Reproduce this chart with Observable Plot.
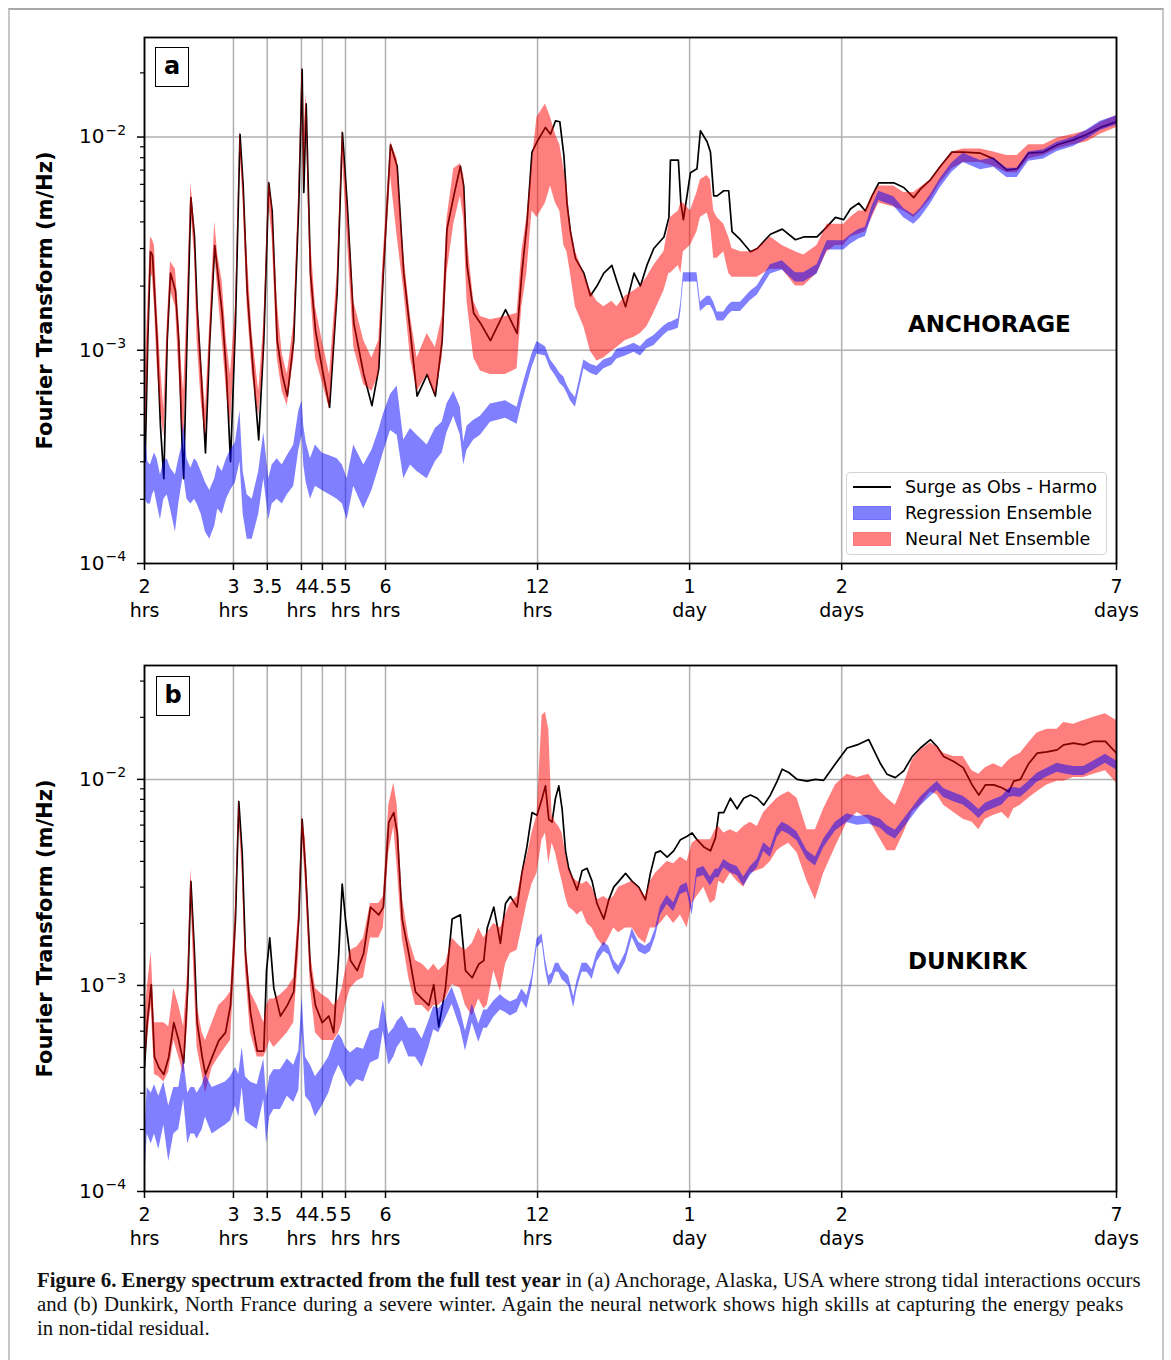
<!DOCTYPE html>
<html>
<head>
<meta charset="utf-8">
<script src="https://cdn.jsdelivr.net/npm/d3@7"></script>
<script src="https://cdn.jsdelivr.net/npm/@observablehq/plot@0.6"></script>
<style>
  body { margin: 0; background: #fff; }
  #page { position: relative; width: 1171px; height: 1360px; background: #fff; font-family: "DejaVu Sans", sans-serif; overflow: hidden; }
  #border { position: absolute; z-index: 5; left: 8px; top: 8px; width: 1156px; height: 1400px; box-sizing: border-box;
            border-top: 2px solid #a8a8a8; border-left: 2px solid #c8c8c8; border-right: 2px solid #c8c8c8; pointer-events: none; }
  .panel { position: absolute; left: 0; }
  .plabel { position: absolute; width: 34px; height: 40px; box-sizing: border-box; border: 1.5px solid #000;
            background: #fff; font-weight: bold; font-size: 24px; line-height: 36px; text-align: center; }
  .station { position: absolute; font-weight: bold; font-size: 23px; line-height: 24px; white-space: nowrap; }
  #legend { position: absolute; left: 846px; top: 472px; width: 261px; height: 83px; box-sizing: border-box;
            border: 1px solid #d4d4d4; border-radius: 4px; background: rgba(255,255,255,0.85); }
  .lrow { position: absolute; left: 0; width: 100%; height: 26px; }
  .lsw { position: absolute; left: 6px; width: 38px; }
  .ltx { position: absolute; left: 58px; top: 0; font-size: 17.5px; line-height: 26px; white-space: nowrap; }
  #caption { position: absolute; left: 37px; top: 1268px; font-family: "Liberation Serif", serif; font-size: 20.8px;
             line-height: 24px; white-space: nowrap; color: #111; }
</style>
</head>
<body>
<div id="page">
  <div id="panelA" class="panel" style="top:0px"></div>
  <div id="panelB" class="panel" style="top:628px"></div>
  <div class="plabel" style="left:155px;top:47px">a</div>
  <div class="plabel" style="left:156px;top:676px">b</div>
  <div class="station" style="left:908px;top:312px">ANCHORAGE</div>
  <div class="station" style="left:908px;top:949px">DUNKIRK</div>
  <div id="legend">
    <div class="lrow" style="top:1px">
      <div class="lsw" style="top:12px;height:2px;background:#000"></div>
      <div class="ltx">Surge as Obs - Harmo</div>
    </div>
    <div class="lrow" style="top:27px">
      <div class="lsw" style="top:6px;height:14px;box-sizing:border-box;background:#8080ff;border:1px solid #7070f8"></div>
      <div class="ltx">Regression Ensemble</div>
    </div>
    <div class="lrow" style="top:53px">
      <div class="lsw" style="top:6px;height:14px;box-sizing:border-box;background:#ff8080;border:1px solid #f87878"></div>
      <div class="ltx">Neural Net Ensemble</div>
    </div>
  </div>
  <div id="caption"><b>Figure 6. Energy spectrum extracted from the full test year</b> in (a) Anchorage, Alaska, USA where strong tidal interactions occurs<br><span style="word-spacing:1.2px">and (b) Dunkirk, North France during a severe winter. Again the neural network shows high skills at capturing the energy peaks</span><br>in non-tidal residual.</div>
  <div id="border"></div>
</div>
<script>
// ---------- axis ticks ----------
const xTickValues = [2, 3, 3.5, 4.09, 4.5, 5.0, 6, 12, 24, 48, 168];
const xTickLabels = ["2\nhrs", "3\nhrs", "3.5", "4\nhrs", "4.5", "5\nhrs", "6\nhrs", "12\nhrs", "1\nday", "2\ndays", "7\ndays"];
const yMajorTicks = [1e-4, 1e-3, 1e-2];
const yMinorTicks = [2e-4,3e-4,4e-4,5e-4,6e-4,7e-4,8e-4,9e-4,2e-3,3e-3,4e-3,5e-3,6e-3,7e-3,8e-3,9e-3,2e-2,3e-2];
const yTitle = "Fourier Transform (m/Hz)";

// ---------- panel a : Anchorage (period in hours, spectrum in m/Hz) ----------
const aHours = [
  2.006, 2.030, 2.055, 2.074, 2.093, 2.118, 2.151, 2.184, 2.218, 2.252,
  2.303, 2.338, 2.374, 2.391, 2.427, 2.471, 2.512, 2.542, 2.590, 2.641,
  2.693, 2.755, 2.793, 2.850, 2.906, 2.960, 3.028, 3.091, 3.136, 3.194,
  3.268, 3.366, 3.445, 3.524, 3.579, 3.662, 3.747, 3.835, 3.949, 4.041,
  4.103, 4.134, 4.179, 4.262, 4.360, 4.496, 4.65, 4.814, 4.93, 5.038,
  5.192, 5.434, 5.64, 5.819, 5.94, 6.14, 6.328, 6.521, 6.723, 6.93,
  7.255, 7.53, 7.769, 7.94, 8.19, 8.44, 8.57, 8.70, 8.97, 9.25,
  9.68, 10.37, 10.93, 11.17, 11.43, 11.70, 11.97, 12.44, 12.73, 13.02,
  13.28, 13.53, 13.72, 13.94, 14.26, 14.82, 15.27, 15.73, 16.23, 16.84,
  17.23, 17.92, 18.63, 19.18, 19.75, 20.38, 21.35, 21.84, 21.99, 22.80,
  23.06, 23.33, 24.09, 24.82, 25.21, 25.99, 26.39, 26.79, 27.21, 28.04,
  28.68, 29.12, 30.25, 31.67, 32.66, 34.69, 36.61, 38.87, 40.38, 42.90,
  44.92, 46.65, 48.45, 49.95, 51.87, 53.48, 55.13, 56.84, 60.85, 63.69,
  66.66, 68.72, 71.94, 75.30, 79.33, 83.52, 90.36, 96.0, 101.9, 106.8,
  112.5, 120.5, 128.2, 138.1, 147.0, 156.1, 168
];
const aObs = [
  0.00030, 0.00111, 0.0029, 0.0028, 0.0019, 0.00111, 0.00044, 0.00025, 0.00111, 0.0023,
  0.0019, 0.00111, 0.00036, 0.00025, 0.00111, 0.0052, 0.0034, 0.0016, 0.00077, 0.00033,
  0.00111, 0.0031, 0.0023, 0.00149, 0.00077, 0.00030, 0.00134, 0.0103, 0.0059, 0.0019,
  0.00092, 0.00038, 0.00111, 0.0061, 0.0045, 0.00111, 0.00077, 0.00061, 0.00111, 0.0049,
  0.0208, 0.0055, 0.0143, 0.0023, 0.00124, 0.00082, 0.00054, 0.0019, 0.0105, 0.0049,
  0.00134, 0.00077, 0.00055, 0.00082, 0.0023, 0.0092, 0.0073, 0.0023, 0.00120, 0.00061,
  0.00077, 0.00061, 0.00111, 0.0037, 0.0053, 0.0073, 0.0059, 0.0025, 0.00149, 0.00134,
  0.00111, 0.00155, 0.00120, 0.0023, 0.0039, 0.0085, 0.0095, 0.0111, 0.0103, 0.0119,
  0.0118, 0.0082, 0.0049, 0.0036, 0.0027, 0.0023, 0.0018, 0.0020, 0.0023, 0.0025,
  0.0021, 0.0016, 0.0023, 0.0020, 0.0025, 0.0030, 0.0034, 0.0042, 0.0078, 0.0078,
  0.0049, 0.0041, 0.0068, 0.0071, 0.0107, 0.0095, 0.0085, 0.0053, 0.0053, 0.0056,
  0.0056, 0.0036, 0.0033, 0.0029, 0.0030, 0.0035, 0.0037, 0.0033, 0.0034, 0.0034,
  0.0038, 0.0042, 0.0041, 0.0046, 0.0049, 0.0045, 0.0053, 0.0061, 0.0061, 0.0058,
  0.0052, 0.0057, 0.0063, 0.0073, 0.0085, 0.0085, 0.0084, 0.0079, 0.0070, 0.0071,
  0.0084, 0.0085, 0.0092, 0.0097, 0.0103, 0.0111, 0.0118
];
const aNnHi = [
  0.00077, 0.0016, 0.0034, 0.0033, 0.0031, 0.0016, 0.00086, 0.00053, 0.00134, 0.0026,
  0.0024, 0.00144, 0.00077, 0.00064, 0.0016, 0.0061, 0.0039, 0.0019, 0.00092, 0.00053,
  0.00134, 0.0040, 0.0028, 0.0021, 0.00111, 0.00077, 0.0016, 0.0107, 0.0066, 0.0028,
  0.00120, 0.00064, 0.00134, 0.0063, 0.0049, 0.0017, 0.00096, 0.00077, 0.00134, 0.0057,
  0.0220, 0.0103, 0.0160, 0.0034, 0.0016, 0.00111, 0.00077, 0.0023, 0.0109, 0.0053,
  0.0017, 0.00111, 0.00092, 0.00111, 0.0028, 0.0095, 0.0079, 0.0028, 0.00144, 0.00092,
  0.00120, 0.00103, 0.00144, 0.0041, 0.0071, 0.0075, 0.0066, 0.0034, 0.0017, 0.00144,
  0.00139, 0.00144, 0.00149, 0.0029, 0.0042, 0.0076, 0.0124, 0.0143, 0.0124, 0.0103,
  0.0092, 0.0071, 0.0059, 0.0039, 0.0029, 0.0023, 0.0019, 0.0017, 0.0016, 0.0017,
  0.0016, 0.0018, 0.0019, 0.0020, 0.0022, 0.0025, 0.0029, 0.0039, 0.0042, 0.0045,
  0.0049, 0.0049, 0.0045, 0.0055, 0.0063, 0.0066, 0.0063, 0.0045, 0.0042, 0.0039,
  0.0034, 0.0030, 0.0029, 0.0029, 0.0030, 0.0034, 0.0031, 0.0029, 0.0028, 0.0031,
  0.0039, 0.0039, 0.0039, 0.0042, 0.0045, 0.0045, 0.0053, 0.0059, 0.0059, 0.0055,
  0.0055, 0.0058, 0.0063, 0.0073, 0.0085, 0.0088, 0.0088, 0.0085, 0.0082, 0.0082,
  0.0092, 0.0092, 0.0099, 0.0103, 0.0107, 0.0117, 0.0126
];
const aNnLo = [
  0.00036, 0.00077, 0.0023, 0.0022, 0.0016, 0.00086, 0.00053, 0.00039, 0.00089, 0.0019,
  0.0016, 0.00082, 0.00044, 0.00039, 0.00092, 0.0045, 0.0028, 0.00111, 0.00057, 0.00039,
  0.00089, 0.0028, 0.0019, 0.00111, 0.00064, 0.00044, 0.00111, 0.0088, 0.0049, 0.0016,
  0.00077, 0.00049, 0.00092, 0.0049, 0.0034, 0.00092, 0.00064, 0.00055, 0.00092, 0.0042,
  0.0186, 0.0055, 0.0124, 0.0019, 0.00092, 0.00071, 0.00053, 0.0016, 0.0082, 0.0034,
  0.00103, 0.00069, 0.00064, 0.00077, 0.0019, 0.0066, 0.0034, 0.0019, 0.00092, 0.00064,
  0.00077, 0.00061, 0.00092, 0.0023, 0.0039, 0.0053, 0.0041, 0.0017, 0.00092, 0.00080,
  0.00077, 0.00077, 0.00082, 0.0016, 0.0023, 0.0045, 0.0042, 0.0049, 0.0059, 0.0049,
  0.0045, 0.0031, 0.0029, 0.0023, 0.0016, 0.00129, 0.00099, 0.00089, 0.00092, 0.00099,
  0.00103, 0.00111, 0.00115, 0.00120, 0.00129, 0.00149, 0.0019, 0.0023, 0.0023, 0.0025,
  0.0023, 0.0029, 0.0031, 0.0036, 0.0042, 0.0044, 0.0039, 0.0027, 0.0027, 0.0029,
  0.0023, 0.0022, 0.0022, 0.0022, 0.0022, 0.0024, 0.0024, 0.0020, 0.0020, 0.0023,
  0.0029, 0.0031, 0.0031, 0.0034, 0.0035, 0.0036, 0.0042, 0.0049, 0.0047, 0.0045,
  0.0042, 0.0045, 0.0051, 0.0061, 0.0071, 0.0076, 0.0076, 0.0073, 0.0068, 0.0068,
  0.0079, 0.0082, 0.0088, 0.0092, 0.0095, 0.0103, 0.0111
];
const aRegHi = [
  0.00042, 0.00030, 0.00029, 0.00031, 0.00033, 0.00031, 0.00026, 0.00030, 0.00031, 0.00028,
  0.00026, 0.00031, 0.00036, 0.00046, 0.00031, 0.00028, 0.00031, 0.00030, 0.00027, 0.00024,
  0.00022, 0.00025, 0.00029, 0.00027, 0.00031, 0.00034, 0.00037, 0.00052, 0.00027, 0.00021,
  0.00020, 0.00027, 0.00041, 0.00025, 0.00029, 0.00031, 0.00029, 0.00032, 0.00036, 0.00052,
  0.00058, 0.00044, 0.00037, 0.00031, 0.00036, 0.00033, 0.00032, 0.00031, 0.00029, 0.00025,
  0.00036, 0.00029, 0.00034, 0.00042, 0.00050, 0.00062, 0.00068, 0.00038, 0.00043, 0.00040,
  0.00036, 0.00043, 0.00046, 0.00056, 0.00064, 0.00054, 0.00037, 0.00044, 0.00047, 0.00049,
  0.00056, 0.00058, 0.00054, 0.00066, 0.00080, 0.00096, 0.00110, 0.00104, 0.00090, 0.00084,
  0.00078, 0.00075, 0.00069, 0.00064, 0.00060, 0.00090, 0.00086, 0.00084, 0.00090, 0.00093,
  0.00101, 0.00104, 0.00108, 0.00104, 0.00112, 0.00117, 0.00130, 0.00135, 0.00135, 0.00141,
  0.00168, 0.00231, 0.00231, 0.00231, 0.00168, 0.00179, 0.00179, 0.00168, 0.00151, 0.00151,
  0.00163, 0.00168, 0.00168, 0.00189, 0.00200, 0.00252, 0.00263, 0.00231, 0.00231, 0.00252,
  0.00326, 0.00326, 0.00326, 0.00347, 0.00368, 0.00378, 0.00473, 0.00557, 0.00525, 0.00462,
  0.00431, 0.00462, 0.00536, 0.00641, 0.00756, 0.00840, 0.00777, 0.00798, 0.00714, 0.00714,
  0.00851, 0.00872, 0.00945, 0.00998, 0.01082, 0.01187, 0.01260
];
const aRegLo = [
  0.00020, 0.00019, 0.00019, 0.00021, 0.00022, 0.00019, 0.00016, 0.00020, 0.00021, 0.00018,
  0.00014, 0.00019, 0.00024, 0.00026, 0.00020, 0.00019, 0.00020, 0.00019, 0.00017, 0.00014,
  0.00013, 0.00015, 0.00018, 0.00017, 0.00020, 0.00022, 0.00024, 0.00030, 0.00017, 0.00013,
  0.00013, 0.00017, 0.00025, 0.00016, 0.00019, 0.00020, 0.00019, 0.00021, 0.00023, 0.00034,
  0.00040, 0.00029, 0.00024, 0.00020, 0.00023, 0.00022, 0.00021, 0.00020, 0.00019, 0.00016,
  0.00023, 0.00018, 0.00022, 0.00028, 0.00033, 0.00042, 0.00040, 0.00025, 0.00029, 0.00027,
  0.00025, 0.00030, 0.00033, 0.00041, 0.00049, 0.00040, 0.00029, 0.00034, 0.00038, 0.00040,
  0.00046, 0.00048, 0.00045, 0.00056, 0.00068, 0.00083, 0.00096, 0.00094, 0.00082, 0.00076,
  0.00070, 0.00067, 0.00063, 0.00058, 0.00054, 0.00082, 0.00078, 0.00076, 0.00082, 0.00085,
  0.00091, 0.00094, 0.00098, 0.00094, 0.00102, 0.00105, 0.00118, 0.00123, 0.00123, 0.00127,
  0.00152, 0.00209, 0.00209, 0.00209, 0.00152, 0.00162, 0.00162, 0.00152, 0.00137, 0.00137,
  0.00147, 0.00152, 0.00152, 0.00171, 0.00181, 0.00228, 0.00238, 0.00209, 0.00209, 0.00228,
  0.00295, 0.00295, 0.00295, 0.00314, 0.00333, 0.00342, 0.00428, 0.00504, 0.00475, 0.00418,
  0.00390, 0.00418, 0.00485, 0.00580, 0.00684, 0.00760, 0.00703, 0.00722, 0.00646, 0.00646,
  0.00770, 0.00789, 0.00855, 0.00903, 0.00979, 0.01074, 0.01140
];

// ---------- panel b : Dunkirk ----------
const bHours = [
  2.000, 2.025, 2.062, 2.093, 2.135, 2.184, 2.234, 2.286, 2.338, 2.391,
  2.436, 2.471, 2.512, 2.542, 2.602, 2.641, 2.723, 2.806, 2.893, 2.960,
  3.028, 3.074, 3.122, 3.169, 3.242, 3.343, 3.445, 3.488, 3.540, 3.606,
  3.717, 3.835, 3.949, 4.041, 4.103, 4.166, 4.262, 4.360, 4.496, 4.633,
  4.739, 4.849, 4.925, 4.999, 5.114, 5.273, 5.43, 5.603, 5.82, 5.94,
  6.09, 6.23, 6.33, 6.474, 6.671, 6.878, 7.091, 7.308, 7.476, 7.648,
  7.886, 8.13, 8.44, 8.64, 8.91, 9.18, 9.39, 9.54, 9.83, 10.13,
  10.37, 10.60, 10.93, 11.17, 11.43, 11.70, 11.97, 12.25, 12.44, 12.63,
  12.82, 13.02, 13.22, 13.42, 13.63, 13.83, 14.15, 14.37, 14.70, 15.04,
  15.39, 15.73, 16.23, 16.60, 16.98, 17.37, 17.92, 18.47, 19.03, 19.62,
  20.07, 20.54, 21.01, 21.66, 22.32, 23.02, 23.73, 24.28, 24.82, 25.60,
  26.39, 27.0, 27.41, 28.04, 28.90, 29.80, 30.71, 31.67, 32.66, 33.65,
  34.69, 35.77, 36.59, 37.71, 39.17, 41.0, 42.58, 44.23, 46.65, 49.2,
  51.5, 54.3, 57.3, 59.0, 61.3, 63.69, 66.2, 68.72, 71.94, 74.2,
  76.4, 80.0, 83.52, 87.0, 89.7, 92.4, 96.0, 99.7, 102.8, 105.2,
  108.4, 112.5, 117.0, 122.4, 128.2, 132.0, 138.1, 144.7, 151.4, 159.7,
  168
];
const bObs = [
  0.00040, 0.00066, 0.00101, 0.00045, 0.00040, 0.00037, 0.00045, 0.00066, 0.00054, 0.00042,
  0.00097, 0.0032, 0.00143, 0.00066, 0.00045, 0.00037, 0.00045, 0.00054, 0.00059, 0.00080,
  0.0021, 0.0078, 0.0044, 0.00143, 0.00074, 0.00048, 0.00048, 0.00118, 0.0017, 0.00097,
  0.00071, 0.00080, 0.00093, 0.0021, 0.0064, 0.0037, 0.00118, 0.00080, 0.00066, 0.00071,
  0.00059, 0.00143, 0.0031, 0.0021, 0.00132, 0.00118, 0.00143, 0.0024, 0.0022, 0.0024,
  0.0062, 0.0069, 0.0055, 0.0021, 0.00143, 0.00093, 0.00086, 0.00080, 0.00101, 0.00063,
  0.00097, 0.0021, 0.0022, 0.00118, 0.00109, 0.00127, 0.00132, 0.0019, 0.0024, 0.0016,
  0.0025, 0.0027, 0.0024, 0.0035, 0.0047, 0.0069, 0.0067, 0.0081, 0.0093, 0.0064,
  0.0062, 0.0081, 0.0093, 0.0072, 0.0045, 0.0037, 0.0032, 0.0029, 0.0036, 0.0037,
  0.0032, 0.0025, 0.0021, 0.0026, 0.0030, 0.0032, 0.0035, 0.0032, 0.0030, 0.0026,
  0.0035, 0.0044, 0.0045, 0.0042, 0.0045, 0.0051, 0.0053, 0.0055, 0.0051, 0.0047,
  0.0045, 0.0052, 0.0069, 0.0069, 0.0081, 0.0072, 0.0081, 0.0084, 0.0081, 0.0075,
  0.0084, 0.0098, 0.0112, 0.0108, 0.0100, 0.0098, 0.0100, 0.0099, 0.0119, 0.0142,
  0.0147, 0.0156, 0.0119, 0.0106, 0.0102, 0.0110, 0.0129, 0.0142, 0.0156, 0.0144,
  0.0129, 0.0122, 0.0114, 0.0094, 0.0084, 0.0094, 0.0094, 0.0091, 0.0087, 0.0098,
  0.0100, 0.0119, 0.0134, 0.0136, 0.0139, 0.0147, 0.0150, 0.0147, 0.0153, 0.0153,
  0.0134
];
const bNnHi = [
  0.00066, 0.00097, 0.00145, 0.00066, 0.00066, 0.00066, 0.00063, 0.00097, 0.00080, 0.00063,
  0.00118, 0.0037, 0.0017, 0.00080, 0.00059, 0.00054, 0.00066, 0.00080, 0.00086, 0.00093,
  0.0024, 0.0081, 0.0045, 0.0017, 0.00093, 0.00080, 0.00066, 0.00080, 0.00086, 0.00086,
  0.00090, 0.00097, 0.00109, 0.0024, 0.0067, 0.0051, 0.00143, 0.00097, 0.00090, 0.00086,
  0.00080, 0.00086, 0.00097, 0.00118, 0.00148, 0.00154, 0.0017, 0.0025, 0.0025, 0.0027,
  0.0075, 0.0096, 0.0075, 0.0027, 0.0017, 0.00132, 0.00127, 0.00118, 0.00127, 0.00118,
  0.00127, 0.0017, 0.00154, 0.00148, 0.0016, 0.0019, 0.0017, 0.0018, 0.0020, 0.0019,
  0.0022, 0.0025, 0.0027, 0.0035, 0.0042, 0.0055, 0.0067, 0.0204, 0.0212, 0.0175,
  0.0067, 0.0062, 0.0059, 0.0055, 0.0044, 0.0037, 0.0033, 0.0032, 0.0031, 0.0032,
  0.0030, 0.0026, 0.0027, 0.0026, 0.0027, 0.0030, 0.0031, 0.0032, 0.0030, 0.0027,
  0.0032, 0.0035, 0.0037, 0.0040, 0.0039, 0.0042, 0.0040, 0.0049, 0.0051, 0.0051,
  0.0051, 0.0057, 0.0059, 0.0055, 0.0057, 0.0055, 0.0059, 0.0062, 0.0059, 0.0069,
  0.0075, 0.0081, 0.0084, 0.0087, 0.0081, 0.0057, 0.0057, 0.0072, 0.0094, 0.0106,
  0.0102, 0.0106, 0.0087, 0.0081, 0.0075, 0.0094, 0.0124, 0.0139, 0.0150, 0.0144,
  0.0134, 0.0129, 0.0129, 0.0110, 0.0106, 0.0114, 0.0119, 0.0114, 0.0124, 0.0129,
  0.0134, 0.0150, 0.0168, 0.0175, 0.0175, 0.0189, 0.0185, 0.0193, 0.0200, 0.0208,
  0.0193
];
const bNnLo = [
  0.00037, 0.00054, 0.00080, 0.00037, 0.00036, 0.00034, 0.00038, 0.00054, 0.00045, 0.00037,
  0.00066, 0.0027, 0.00097, 0.00050, 0.00037, 0.00030, 0.00040, 0.00045, 0.00050, 0.00054,
  0.00143, 0.0067, 0.0035, 0.00118, 0.00059, 0.00045, 0.00045, 0.00048, 0.00054, 0.00050,
  0.00054, 0.00059, 0.00066, 0.00143, 0.0055, 0.0031, 0.00097, 0.00059, 0.00054, 0.00054,
  0.00054, 0.00059, 0.00066, 0.00080, 0.00097, 0.00105, 0.00109, 0.0017, 0.0017, 0.0019,
  0.0044, 0.0059, 0.0037, 0.0017, 0.00109, 0.00080, 0.00080, 0.00074, 0.00080, 0.00080,
  0.00086, 0.00101, 0.00097, 0.00080, 0.00071, 0.00086, 0.00077, 0.00080, 0.00118, 0.00093,
  0.00127, 0.00143, 0.00148, 0.0019, 0.0025, 0.0031, 0.0035, 0.0051, 0.0055, 0.0039,
  0.0049, 0.0044, 0.0037, 0.0032, 0.0027, 0.0024, 0.0023, 0.0022, 0.0023, 0.0020,
  0.0019, 0.0017, 0.00154, 0.0017, 0.0019, 0.0018, 0.0019, 0.0019, 0.0017, 0.0016,
  0.0019, 0.0019, 0.0020, 0.0022, 0.0020, 0.0022, 0.0019, 0.0025, 0.0027, 0.0030,
  0.0025, 0.0026, 0.0032, 0.0031, 0.0035, 0.0032, 0.0030, 0.0035, 0.0036, 0.0037,
  0.0040, 0.0045, 0.0047, 0.0049, 0.0044, 0.0032, 0.0026, 0.0035, 0.0047, 0.0062,
  0.0069, 0.0064, 0.0051, 0.0045, 0.0045, 0.0055, 0.0069, 0.0075, 0.0087, 0.0084,
  0.0075, 0.0069, 0.0064, 0.0062, 0.0057, 0.0064, 0.0067, 0.0069, 0.0064, 0.0072,
  0.0075, 0.0081, 0.0087, 0.0094, 0.0098, 0.0098, 0.0102, 0.0102, 0.0106, 0.0110,
  0.0096
];
const bRegHi = [
  0.00017, 0.00032, 0.00030, 0.00033, 0.00029, 0.00034, 0.00026, 0.00032, 0.00032, 0.00044,
  0.00030, 0.00032, 0.00032, 0.00030, 0.00033, 0.00037, 0.00032, 0.00033, 0.00034, 0.00036,
  0.00040, 0.00037, 0.00050, 0.00036, 0.00034, 0.00033, 0.00044, 0.00029, 0.00036, 0.00039,
  0.00039, 0.00044, 0.00041, 0.00048, 0.00088, 0.00045, 0.00041, 0.00036, 0.00040, 0.00045,
  0.00053, 0.00058, 0.00055, 0.00050, 0.00047, 0.00050, 0.00049, 0.00060, 0.00062, 0.00085,
  0.00058, 0.00062, 0.00067, 0.00071, 0.00062, 0.00062, 0.00055, 0.00067, 0.00079, 0.00077,
  0.00085, 0.00098, 0.00076, 0.00060, 0.00081, 0.00065, 0.00076, 0.00076, 0.00084, 0.00090,
  0.00086, 0.00083, 0.00086, 0.00096, 0.00089, 0.00111, 0.00168, 0.00178, 0.00134, 0.00111,
  0.00115, 0.00128, 0.00128, 0.00119, 0.00115, 0.00111, 0.00088, 0.00106, 0.00128, 0.00128,
  0.00119, 0.00144, 0.00162, 0.00155, 0.00133, 0.00124, 0.00144, 0.00189, 0.00162, 0.00155,
  0.00162, 0.00189, 0.00241, 0.00273, 0.00252, 0.00304, 0.00315, 0.00241, 0.00367, 0.00378,
  0.00336, 0.00367, 0.00367, 0.00409, 0.00388, 0.00378, 0.00336, 0.00378, 0.00409, 0.00493,
  0.00462, 0.00577, 0.00619, 0.00598, 0.00556, 0.00451, 0.00420, 0.00514, 0.00619, 0.00682,
  0.00661, 0.00672, 0.00640, 0.00598, 0.00567, 0.00640, 0.00724, 0.00819, 0.00913, 0.00976,
  0.00903, 0.00861, 0.00829, 0.00766, 0.00714, 0.00766, 0.00798, 0.00829, 0.00903, 0.00913,
  0.00903, 0.00976, 0.01071, 0.01134, 0.01197, 0.01176, 0.01155, 0.01155, 0.01228, 0.01323,
  0.01228
];
const bRegLo = [
  0.00011, 0.00019, 0.00017, 0.00019, 0.00016, 0.00021, 0.00014, 0.00019, 0.00020, 0.00028,
  0.00017, 0.00019, 0.00019, 0.00018, 0.00020, 0.00023, 0.00019, 0.00020, 0.00021, 0.00022,
  0.00026, 0.00023, 0.00032, 0.00022, 0.00021, 0.00020, 0.00028, 0.00017, 0.00023, 0.00025,
  0.00025, 0.00029, 0.00027, 0.00031, 0.00060, 0.00029, 0.00027, 0.00023, 0.00026, 0.00030,
  0.00036, 0.00041, 0.00038, 0.00035, 0.00032, 0.00035, 0.00034, 0.00042, 0.00044, 0.00060,
  0.00041, 0.00045, 0.00050, 0.00054, 0.00045, 0.00045, 0.00040, 0.00050, 0.00061, 0.00059,
  0.00069, 0.00081, 0.00062, 0.00048, 0.00066, 0.00053, 0.00062, 0.00062, 0.00070, 0.00076,
  0.00074, 0.00071, 0.00074, 0.00084, 0.00077, 0.00099, 0.00152, 0.00162, 0.00120, 0.00099,
  0.00103, 0.00116, 0.00116, 0.00107, 0.00103, 0.00099, 0.00078, 0.00096, 0.00116, 0.00116,
  0.00107, 0.00130, 0.00146, 0.00141, 0.00121, 0.00112, 0.00130, 0.00171, 0.00146, 0.00141,
  0.00146, 0.00171, 0.00219, 0.00247, 0.00228, 0.00276, 0.00285, 0.00219, 0.00333, 0.00342,
  0.00304, 0.00333, 0.00333, 0.00371, 0.00352, 0.00342, 0.00304, 0.00342, 0.00371, 0.00447,
  0.00418, 0.00523, 0.00561, 0.00542, 0.00504, 0.00409, 0.00380, 0.00466, 0.00561, 0.00618,
  0.00599, 0.00608, 0.00580, 0.00542, 0.00513, 0.00580, 0.00656, 0.00741, 0.00827, 0.00884,
  0.00817, 0.00779, 0.00751, 0.00694, 0.00646, 0.00694, 0.00722, 0.00751, 0.00817, 0.00827,
  0.00817, 0.00884, 0.00969, 0.01026, 0.01083, 0.01064, 0.01045, 0.01045, 0.01112, 0.01197,
  0.01112
];

function rows(hours, obs, lo, hi, rlo, rhi) {
  return hours.map((h, i) => ({h, obs: obs[i], lo: lo[i], hi: hi[i], rlo: rlo[i], rhi: rhi[i]}));
}

function panel(data, yTop) {
  const minors = yMinorTicks.filter(d => d <= yTop);
  const grid = {stroke: "#b0b0b0", strokeOpacity: 1, strokeWidth: 1.5};
  return Plot.plot({
    width: 1171, height: 628,
    marginLeft: 144, marginRight: 55, marginTop: 37, marginBottom: 65,
    style: {fontFamily: "DejaVu Sans", fontSize: "19px", color: "black", background: "white", overflow: "visible"},
    x: {type: "log", domain: [2, 168], axis: null},
    y: {type: "log", domain: [1e-4, yTop], axis: null},
    marks: [
      Plot.gridX(xTickValues, grid),
      Plot.gridY([1e-3, 1e-2], grid),
      Plot.line(data, {x: "h", y: "obs", stroke: "black", strokeWidth: 1.7, clip: true}),
      Plot.areaY(data, {x: "h", y1: "lo", y2: "hi", fill: "#ff0000", fillOpacity: 0.5, clip: true}),
      Plot.areaY(data, {x: "h", y1: "rlo", y2: "rhi", fill: "#0000ff", fillOpacity: 0.5, clip: true}),
      Plot.axisX(xTickValues, {anchor: "bottom", label: null, tickSize: 7, tickPadding: 5, strokeWidth: 1.5,
        tickFormat: d => xTickLabels[xTickValues.indexOf(d)], fontSize: 19, lineHeight: 1.27}),
      Plot.axisY(yMajorTicks, {anchor: "left", label: null, tickSize: 7, strokeWidth: 1.5, tickFormat: () => ""}),
      Plot.axisY(minors, {anchor: "left", label: null, tickSize: 4, strokeWidth: 1.2, tickFormat: () => ""}),
      Plot.text(yMajorTicks, {y: d => d, frameAnchor: "left", text: () => "10", dx: -40, textAnchor: "end", fontSize: 20}),
      Plot.text(yMajorTicks, {y: d => d, frameAnchor: "left", text: d => "\u2212" + Math.round(-Math.log10(d)), dx: -39, dy: -7, textAnchor: "start", fontSize: 14}),
      Plot.text([yTitle], {frameAnchor: "left", dx: -99, rotate: -90, textAnchor: "middle", fontWeight: "bold", fontSize: 21}),
      Plot.frame({stroke: "black", strokeWidth: 1.8})
    ]
  });
}

document.getElementById("panelA").appendChild(panel(rows(aHours, aObs, aNnLo, aNnHi, aRegLo, aRegHi), 0.0293));
document.getElementById("panelB").appendChild(panel(rows(bHours, bObs, bNnLo, bNnHi, bRegLo, bRegHi), 0.0357));
</script>
</body>
</html>
